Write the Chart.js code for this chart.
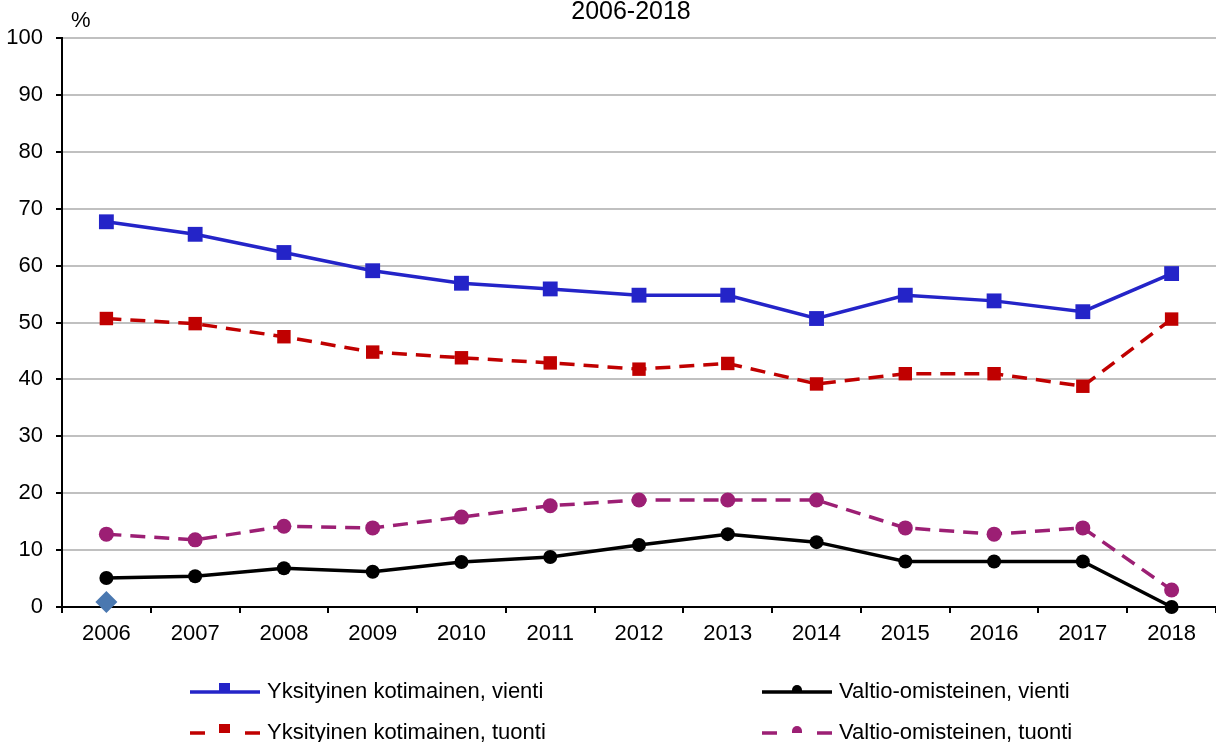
<!DOCTYPE html>
<html>
<head>
<meta charset="utf-8">
<script src="https://cdn.jsdelivr.net/npm/chart.js@4/dist/chart.umd.min.js"></script>
<style>
  body { margin: 0; background: #fff; }
  #wrap { width: 1216px; height: 742px; }
</style>
</head>
<body>
<div id="wrap"><canvas id="myChart" width="1216" height="742"></canvas></div>
<script>
'use strict';

let years = ['2006', '2007', '2008', '2009', '2010', '2011', '2012', '2013', '2014', '2015', '2016', '2017', '2018'];
let yTicks = [0, 10, 20, 30, 40, 50, 60, 70, 80, 90, 100];
let privExport = [67.7, 65.5, 62.3, 59.1, 56.9, 55.9, 54.8, 54.8, 50.7, 54.8, 53.8, 51.9, 58.6];
let privImport = [50.7, 49.8, 47.5, 44.8, 43.8, 42.9, 41.8, 42.8, 39.2, 41.0, 41.0, 38.8, 50.6];
let stateExport = [5.1, 5.4, 6.8, 6.2, 7.9, 8.8, 10.9, 12.8, 11.4, 8.0, 8.0, 8.0, 0];
let stateImport = [12.8, 11.8, 14.2, 13.9, 15.8, 17.8, 18.8, 18.8, 18.8, 13.9, 12.8, 13.9, 3.0];
let strayPoint = [0.9, null, null, null, null, null, null, null, null, null, null, null, null];

let fontName = '"Liberation Sans", Arial, sans-serif';
let ctx = document.getElementById('myChart');

// legend + title + "%" drawn by hand, Excel style
let extrasPlugin = {
  id: 'extras',
  afterDraw(chart) {
    let c = chart.ctx;
    c.save();
    c.fillStyle = '#000';
    c.font = '25px ' + fontName;
    c.textAlign = 'center';
    c.textBaseline = 'alphabetic';
    c.fillText('2006-2018', 631, 19);

    c.font = '22px ' + fontName;
    c.textAlign = 'left';
    c.textBaseline = 'middle';
    c.fillText('%', 71, 21);

    let items = [
      { ds: 0, x: 190, y: 692, text: 'Yksityinen kotimainen, vienti' },
      { ds: 2, x: 762, y: 692, text: 'Valtio-omisteinen, vienti' },
      { ds: 1, x: 190, y: 733, text: 'Yksityinen kotimainen, tuonti' },
      { ds: 3, x: 762, y: 733, text: 'Valtio-omisteinen, tuonti' }
    ];
    items.forEach(item => {
      let ds = chart.data.datasets[item.ds];
      let mid = item.x + 35;
      c.strokeStyle = ds.borderColor;
      c.lineWidth = ds.borderWidth;
      c.setLineDash([]);
      c.beginPath();
      if (ds.borderDash) {
        c.moveTo(item.x, item.y); c.lineTo(item.x + 15, item.y);
        c.moveTo(item.x + 55, item.y); c.lineTo(item.x + 70, item.y);
      } else {
        c.moveTo(item.x, item.y); c.lineTo(item.x + 70, item.y);
      }
      c.stroke();
      c.fillStyle = ds.pointBackgroundColor;
      if (ds.pointStyle === 'rect') {
        c.fillRect(mid - 6, item.y - 9, 11, 9);
      } else {
        c.beginPath();
        c.arc(mid, item.y - 2, 5, Math.PI, 0);
        c.lineTo(mid + 5, item.y);
        c.lineTo(mid - 5, item.y);
        c.fill();
      }
      c.fillStyle = '#000';
      c.fillText(item.text, item.x + 77, item.y);
    });
    c.restore();
  }
};

new Chart(ctx, {
  type: 'line',
  data: {
    labels: years,
    datasets: [{
      label: 'Yksityinen kotimainen, vienti',
      data: privExport,
      borderColor: '#2424c8',
      backgroundColor: '#2424c8',
      pointBackgroundColor: '#2424c8',
      pointBorderColor: '#2424c8',
      borderWidth: 3.5,
      pointStyle: 'rect',
      pointRadius: 10.5,
      pointBorderWidth: 0,
      clip: false
    },
    {
      label: 'Yksityinen kotimainen, tuonti',
      data: privImport,
      borderColor: '#c00000',
      backgroundColor: '#c00000',
      pointBackgroundColor: '#c00000',
      pointBorderColor: '#c00000',
      borderWidth: 3.5,
      borderDash: [15, 9],
      pointStyle: 'rect',
      pointRadius: 9.5,
      pointBorderWidth: 0,
      clip: false
    },
    {
      label: 'Valtio-omisteinen, vienti',
      data: stateExport,
      borderColor: '#000000',
      backgroundColor: '#000000',
      pointBackgroundColor: '#000000',
      pointBorderColor: '#000000',
      borderWidth: 3.5,
      pointStyle: 'circle',
      pointRadius: 7,
      pointBorderWidth: 0,
      clip: false
    },
    {
      label: 'Valtio-omisteinen, tuonti',
      data: stateImport,
      borderColor: '#9c1f74',
      backgroundColor: '#9c1f74',
      pointBackgroundColor: '#9c1f74',
      pointBorderColor: '#9c1f74',
      borderWidth: 3.5,
      borderDash: [15, 9],
      pointStyle: 'circle',
      pointRadius: 7.5,
      pointBorderWidth: 0,
      clip: false
    },
    {
      label: '',
      data: strayPoint,
      showLine: false,
      pointStyle: 'rectRot',
      pointRadius: 11,
      pointBorderWidth: 0,
      pointBackgroundColor: '#4a78b0',
      borderColor: '#4a78b0',
      clip: false
    }]
  },
  options: {
    responsive: false,
    animation: false,
    devicePixelRatio: 1,
    layout: { autoPadding: false, padding: { top: 38, left: 0, right: 0, bottom: 0 } },
    elements: { line: { tension: 0 } },
    plugins: {
      legend: { display: false },
      title: { display: false },
      tooltip: { enabled: false }
    },
    scales: {
      x: {
        offset: true,
        grid: {
          offset: true,
          drawOnChartArea: false,
          drawTicks: true,
          tickLength: 6,
          tickColor: '#000',
          lineWidth: 2
        },
        border: { display: true, color: '#000', width: 2 },
        ticks: {
          color: '#000',
          padding: 8,
          maxRotation: 0,
          autoSkip: false,
          font: { family: fontName, size: 22 }
        },
        afterFit(scale) {
          scale.height = 135;
          scale.paddingLeft = 0;
          scale.paddingRight = 0;
        }
      },
      y: {
        min: 0,
        max: 100,
        afterBuildTicks(scale) { scale.ticks = yTicks.map(v => ({ value: v })); },
        grid: {
          color: c => c.tick && c.tick.value === 0 ? '#000' : '#c0c0c0',
          lineWidth: 2,
          tickLength: 6,
          tickColor: '#000'
        },
        border: { display: true, color: '#000', width: 2 },
        ticks: {
          color: '#000',
          padding: 13,
          font: { family: fontName, size: 22 }
        },
        afterFit(scale) {
          scale.width = 62;
          scale.paddingTop = 0;
          scale.paddingBottom = 0;
        }
      }
    }
  },
  plugins: [extrasPlugin]
});
</script>
</body>
</html>
